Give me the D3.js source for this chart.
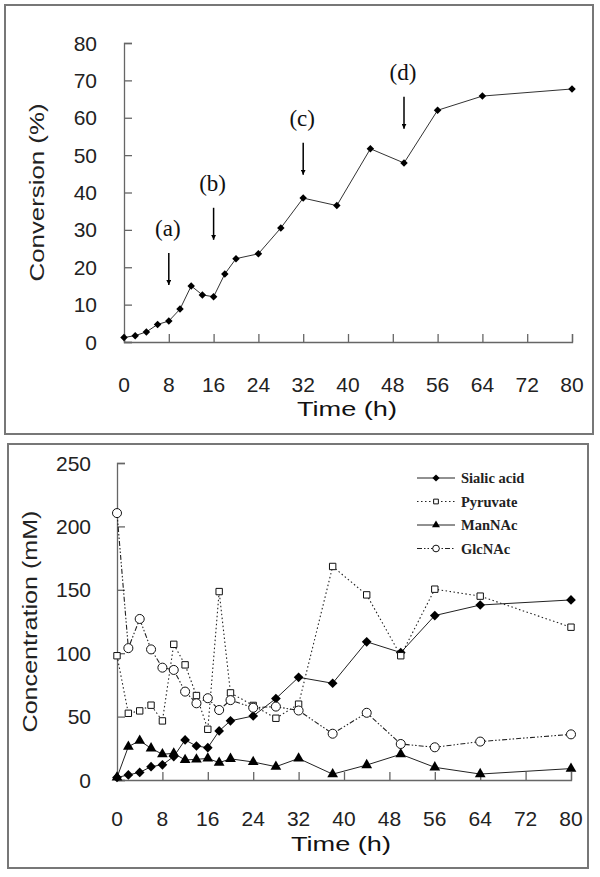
<!DOCTYPE html>
<html>
<head>
<meta charset="utf-8">
<script src="https://cdn.jsdelivr.net/npm/d3@7"></script>
<style>
  body { margin: 0; background: #fff; }
  svg { display: block; }
</style>
</head>
<body>
<div id="chart"></div>
<script>
// top panel: conversion over time
let convTime = [0, 2, 4, 6, 8, 10, 12, 14, 16, 18, 20, 24, 28, 32, 38, 44, 50, 56, 64, 80];
let convValue = [1.2, 1.7, 2.7, 4.7, 5.6, 8.8, 15, 12.6, 12.1, 18.2, 22.3, 23.6, 30.5, 38.5, 36.5, 51.7, 47.9, 62, 65.8, 67.7];
let annoLabels = ["(a)", "(b)", "(c)", "(d)"];
let annoTime = [8, 16, 32, 50];
let annoValue = [30.5, 42.6, 60, 72.3];

// bottom panel: concentrations
let concTime = [0, 2, 4, 6, 8, 10, 12, 14, 16, 18, 20, 24, 28, 32, 38, 44, 50, 56, 64, 80];
let sialic = [2, 4, 6, 10.5, 12, 18.5, 31.6, 26.8, 25.5, 38.7, 46.7, 50.5, 64.2, 81, 76.3, 109, 100.5, 129.7, 138, 142];
let pyruvate = [98, 52.6, 54.5, 59, 46.6, 107, 90.8, 66.6, 40, 148.6, 68.7, 58.8, 48.7, 59.8, 168.4, 146, 98, 150.5, 145, 120.5];
let mannac = [2, 26.3, 31, 25, 20.3, 21, 15.8, 16.3, 17, 13.7, 16.7, 14.2, 10.5, 17, 4.6, 11.8, 20.3, 10, 4.7, 9];
let glcnac = [210.5, 104, 127, 103, 88.6, 86.8, 69.7, 60.5, 64.5, 55.2, 63, 57, 57.9, 54.8, 36.5, 53, 28.4, 25.8, 30.3, 36];
let seriesNames = ["Sialic acid", "Pyruvate", "ManNAc", "GlcNAc"];

let xTicks = [0, 8, 16, 24, 32, 40, 48, 56, 64, 72, 80];
let convTicks = [0, 10, 20, 30, 40, 50, 60, 70, 80];
let concTicks = [0, 50, 100, 150, 200, 250];

let svg = d3.select("#chart")
    .append("svg")
    .attr("width", 600)
    .attr("height", 877);

let axisColor = "#666";
let textColor = "#222";

// frames
svg.append("rect").attr("x", 5).attr("y", 5).attr("width", 588).attr("height", 429)
    .attr("fill", "none").attr("stroke", "#777").attr("stroke-width", 2);
svg.append("rect").attr("x", 8).attr("y", 444).attr("width", 580).attr("height", 424)
    .attr("fill", "none").attr("stroke", "#777").attr("stroke-width", 2);

// opt: fontSize, xLabelY, yLabelX, titleX, titleY, titleLen, yTitle, yTitleX, yTitleLen
function drawAxes(g, x, y, yTicks, opt) {
    // y axis, ticks pointing inward
    let ya = g.append("g")
        .attr("transform", "translate(" + x.range()[0] + ",0)")
        .call(d3.axisRight(y).tickValues(yTicks).tickSize(8).tickFormat(""));
    ya.select(".domain").attr("stroke", axisColor).attr("stroke-width", 1.3);
    ya.selectAll(".tick line").attr("stroke", axisColor).attr("stroke-width", 1.3);

    let xa = g.append("g")
        .attr("transform", "translate(0," + y.range()[0] + ")")
        .call(d3.axisTop(x).tickValues(xTicks).tickSize(8).tickFormat(""));
    xa.select(".domain").attr("stroke", axisColor).attr("stroke-width", 1.3);
    xa.selectAll(".tick line").attr("stroke", axisColor).attr("stroke-width", 1.3);

    g.append("g").selectAll("text")
        .data(yTicks)
        .enter()
        .append("text")
        .attr("x", opt.yLabelX)
        .attr("y", function (d) { return y(d); })
        .attr("dy", "0.36em")
        .attr("text-anchor", "end")
        .attr("font-family", "Liberation Sans, Arial, sans-serif")
        .attr("font-size", opt.fontSize)
        .attr("fill", textColor)
        .text(function (d) { return d; });

    g.append("g").selectAll("text")
        .data(xTicks)
        .enter()
        .append("text")
        .attr("x", function (d) { return x(d); })
        .attr("y", opt.xLabelY)
        .attr("text-anchor", "middle")
        .attr("font-family", "Liberation Sans, Arial, sans-serif")
        .attr("font-size", opt.fontSize)
        .attr("fill", textColor)
        .text(function (d) { return d; });

    g.append("text")
        .attr("x", opt.titleX)
        .attr("y", opt.titleY)
        .attr("text-anchor", "middle")
        .attr("font-family", "Liberation Sans, Arial, sans-serif")
        .attr("font-size", opt.fontSize)
        .attr("textLength", opt.titleLen)
        .attr("lengthAdjust", "spacingAndGlyphs")
        .attr("fill", "#111")
        .text("Time (h)");

    let yMid = (y.range()[0] + y.range()[1]) / 2;
    g.append("text")
        .attr("transform", "translate(" + opt.yTitleX + "," + yMid + ") rotate(-90)")
        .attr("dy", "0.36em")
        .attr("text-anchor", "middle")
        .attr("font-family", "Liberation Sans, Arial, sans-serif")
        .attr("font-size", opt.fontSize)
        .attr("textLength", opt.yTitleLen)
        .attr("lengthAdjust", "spacingAndGlyphs")
        .attr("fill", textColor)
        .text(opt.yTitle);
}

// ---------- top panel ----------
let topPanel = svg.append("g");
let x1 = d3.scaleLinear().domain([0, 80]).range([124, 572]);
let y1 = d3.scaleLinear().domain([0, 80]).range([342, 43]);
drawAxes(topPanel, x1, y1, convTicks, {
    fontSize: 21, xLabelY: 392, yLabelX: 97,
    titleX: 347, titleY: 416, titleLen: 100,
    yTitle: "Conversion (%)", yTitleX: 36, yTitleLen: 178
});

let convData = convTime.map(function (t, i) { return {t: t, v: convValue[i]}; });

topPanel.append("path")
    .datum(convData)
    .attr("fill", "none")
    .attr("stroke", "#333")
    .attr("stroke-width", 1)
    .attr("d", d3.line()
        .x(function (d) { return x1(d.t); })
        .y(function (d) { return y1(d.v); }));

topPanel.append("g").selectAll("path")
    .data(convData)
    .enter()
    .append("path")
    .attr("transform", function (d) { return "translate(" + x1(d.t) + "," + y1(d.v) + ")"; })
    .attr("d", d3.symbol().type(d3.symbolDiamond2).size(36))
    .attr("fill", "#000");

// arrows with labels
svg.append("defs").append("marker")
    .attr("id", "arrow")
    .attr("viewBox", "0 0 10 10")
    .attr("refX", 10).attr("refY", 5)
    .attr("markerWidth", 5).attr("markerHeight", 5)
    .attr("markerUnits", "userSpaceOnUse")
    .attr("orient", "auto")
    .append("path")
    .attr("d", "M0,0 L10,5 L0,10 z")
    .attr("fill", "#000");

let anno = topPanel.append("g");
annoLabels.forEach(function (lab, i) {
    let ax = x1(annoTime[i]);
    let ay = y1(annoValue[i]);
    anno.append("text")
        .attr("x", ax - 1)
        .attr("y", ay)
        .attr("dy", "0.35em")
        .attr("text-anchor", "middle")
        .attr("font-family", "Liberation Serif, Times New Roman, serif")
        .attr("font-size", 23)
        .attr("fill", "#111")
        .text(lab);
    anno.append("line")
        .attr("x1", ax).attr("x2", ax)
        .attr("y1", ay + 25).attr("y2", ay + 57)
        .attr("stroke", "#000")
        .attr("stroke-width", 1.5)
        .attr("marker-end", "url(#arrow)");
});

// ---------- bottom panel ----------
let botPanel = svg.append("g");
let x2 = d3.scaleLinear().domain([0, 80]).range([117, 571]);
let y2 = d3.scaleLinear().domain([0, 250]).range([780, 463]);
drawAxes(botPanel, x2, y2, concTicks, {
    fontSize: 21, xLabelY: 826, yLabelX: 91,
    titleX: 341, titleY: 851, titleLen: 100,
    yTitle: "Concentration (mM)", yTitleX: 29, yTitleLen: 222
});

let series = [
    {name: seriesNames[0], values: sialic, dash: null, symbol: d3.symbolDiamond2, size: 60, fill: "#000", width: 1},
    {name: seriesNames[1], values: pyruvate, dash: "1.5,2.5", symbol: d3.symbolSquare2, size: 52, fill: "#fff", width: 1.1},
    {name: seriesNames[2], values: mannac, dash: null, symbol: d3.symbolTriangle, size: 50, fill: "#000", width: 1},
    {name: seriesNames[3], values: glcnac, dash: "5,2,1.5,2,1.5,2", symbol: d3.symbolCircle, size: 64, fill: "#fff", width: 1.1}
];

let line2 = d3.line()
    .x(function (d) { return x2(d.t); })
    .y(function (d) { return y2(d.v); });

series.forEach(function (s) {
    let pts = concTime.map(function (t, i) { return {t: t, v: s.values[i]}; });
    botPanel.append("path")
        .datum(pts)
        .attr("fill", "none")
        .attr("stroke", "#222")
        .attr("stroke-width", s.width)
        .attr("stroke-dasharray", s.dash)
        .attr("d", line2);
    botPanel.append("g").selectAll("path")
        .data(pts)
        .enter()
        .append("path")
        .attr("transform", function (d) { return "translate(" + x2(d.t) + "," + y2(d.v) + ")"; })
        .attr("d", d3.symbol().type(s.symbol).size(s.size))
        .attr("fill", s.fill)
        .attr("stroke", s.fill === "#fff" ? "#111" : "none")
        .attr("stroke-width", 1);
});

// legend
let legend = botPanel.append("g");
series.forEach(function (s, i) {
    let ly = 478 + i * 23.5;
    legend.append("line")
        .attr("x1", 417).attr("x2", 455)
        .attr("y1", ly).attr("y2", ly)
        .attr("stroke", "#222")
        .attr("stroke-width", s.width)
        .attr("stroke-dasharray", s.dash);
    legend.append("path")
        .attr("transform", "translate(436," + ly + ")")
        .attr("d", d3.symbol().type(s.symbol).size(s.size * 0.55))
        .attr("fill", s.fill)
        .attr("stroke", s.fill === "#fff" ? "#111" : "none");
    legend.append("text")
        .attr("x", 461)
        .attr("y", ly)
        .attr("dy", "0.35em")
        .attr("font-family", "Liberation Serif, Times New Roman, serif")
        .attr("font-weight", "bold")
        .attr("font-size", 14.5)
        .attr("fill", "#222")
        .text(s.name);
});
</script>
</body>
</html>
